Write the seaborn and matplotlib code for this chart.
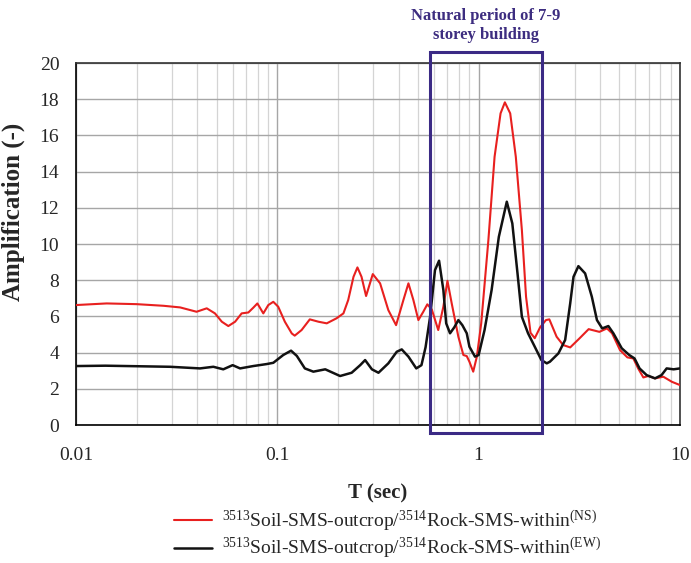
import matplotlib
matplotlib.use("Agg")
import matplotlib.pyplot as plt
import seaborn as sns
import pandas as pd
from matplotlib.patches import Rectangle
from matplotlib.ticker import LogLocator, FixedLocator, NullFormatter

# ---------------- data ----------------
T_ns = [0.01, 0.0142, 0.02, 0.0272, 0.0329, 0.0397, 0.0446, 0.049, 0.053, 0.0571,
        0.0617, 0.0665, 0.0718, 0.0759, 0.0796, 0.0852, 0.0902, 0.0955, 0.101, 0.109,
        0.118, 0.122, 0.132, 0.145, 0.160, 0.176, 0.197, 0.213, 0.225, 0.239,
        0.25, 0.262, 0.276, 0.298, 0.324, 0.356, 0.389, 0.423, 0.448, 0.474,
        0.502, 0.531, 0.556, 0.585, 0.63, 0.668, 0.70, 0.735, 0.793, 0.84,
        0.873, 0.90, 0.94, 0.98, 1.03, 1.118, 1.20, 1.285, 1.35, 1.435,
        1.53, 1.64, 1.72, 1.81, 1.90, 2.02, 2.16, 2.245, 2.44, 2.63,
        2.85, 3.17, 3.52, 3.98, 4.34, 4.60, 5.04, 5.48, 5.87, 6.2,
        6.58, 6.96, 7.52, 8.27, 9.12, 10.0]
A_ns = [6.63, 6.72, 6.68, 6.59, 6.50, 6.26, 6.45, 6.17, 5.71, 5.47,
        5.71, 6.17, 6.22, 6.48, 6.72, 6.17, 6.63, 6.81, 6.54, 5.71,
        5.06, 4.94, 5.25, 5.84, 5.71, 5.62, 5.90, 6.17, 6.91, 8.19,
        8.71, 8.19, 7.13, 8.34, 7.83, 6.35, 5.52, 6.91, 7.83, 6.91,
        5.80, 6.26, 6.67, 6.39, 5.25, 6.54, 7.97, 6.72, 4.88, 3.87,
        3.81, 3.50, 2.95, 3.78, 5.62, 10.22, 14.82, 17.22, 17.83, 17.22,
        14.82, 10.77, 7.09, 5.10, 4.80, 5.40, 5.80, 5.84, 4.88, 4.42,
        4.29, 4.79, 5.30, 5.15, 5.34, 5.07, 4.14, 3.74, 3.68, 3.13,
        2.63, 2.71, 2.58, 2.67, 2.39, 2.21]

T_ew = [0.01, 0.014, 0.0293, 0.0329, 0.0413, 0.0481, 0.0539, 0.060, 0.0653, 0.0759,
        0.0885, 0.0955, 0.107, 0.117, 0.125, 0.137, 0.151, 0.173, 0.205, 0.234,
        0.258, 0.273, 0.295, 0.318, 0.356, 0.392, 0.415, 0.448, 0.49, 0.52,
        0.545, 0.574, 0.607, 0.636, 0.668, 0.69, 0.721, 0.757, 0.793, 0.83,
        0.873, 0.90, 0.959, 1.0, 1.07, 1.16, 1.26, 1.38, 1.47, 1.56,
        1.64, 1.76, 1.9, 2.05, 2.18, 2.26, 2.49, 2.69, 2.85, 2.96,
        3.13, 3.38, 3.65, 3.87, 4.11, 4.41, 4.67, 5.14, 5.6, 5.95,
        6.3, 6.83, 7.52, 8.1, 8.59, 9.3, 10.0]
A_ew = [3.26, 3.28, 3.22, 3.19, 3.13, 3.22, 3.08, 3.31, 3.13, 3.26,
        3.37, 3.44, 3.87, 4.11, 3.82, 3.13, 2.95, 3.08, 2.71, 2.89,
        3.31, 3.59, 3.08, 2.89, 3.41, 4.05, 4.18, 3.78, 3.13, 3.31,
        4.30, 5.98, 8.56, 9.08, 7.46, 5.62, 5.07, 5.40, 5.80, 5.52,
        5.07, 4.33, 3.78, 3.87, 5.25, 7.46, 10.40, 12.34, 11.14, 8.38,
        5.98, 5.07, 4.33, 3.59, 3.41, 3.50, 3.96, 4.70, 6.72, 8.19,
        8.78, 8.38, 7.09, 5.80, 5.34, 5.47, 5.07, 4.24, 3.87, 3.68,
        3.13, 2.76, 2.58, 2.76, 3.13, 3.08, 3.13]

label_ns = r"$^{3513}$Soil-SMS-outcrop/$^{3514}$Rock-SMS-within$^{\mathrm{(NS)}}$"
label_ew = r"$^{3513}$Soil-SMS-outcrop/$^{3514}$Rock-SMS-within$^{\mathrm{(EW)}}$"

x_ticks = [0.01, 0.1, 1, 10]
x_ticklabels = ["0.01", "0.1", "1", "10"]
y_ticks = [0, 2, 4, 6, 8, 10, 12, 14, 16, 18, 20]

box_T = (0.574, 2.07)
box_title = "Natural period of 7-9\nstorey building"

# ---------------- style ----------------
sns.set_style("white")
plt.rcParams["font.family"] = ["Liberation Serif", "DejaVu Serif"]
plt.rcParams["mathtext.fontset"] = "custom"
plt.rcParams["mathtext.rm"] = "Liberation Serif"
plt.rcParams["mathtext.it"] = "Liberation Serif"
plt.rcParams["mathtext.bf"] = "Liberation Serif:bold"

fig = plt.figure(figsize=(6.91, 5.63), dpi=100)
ax = fig.add_axes([0.110, 0.245, 0.874, 0.643])

df_ns = pd.DataFrame({"T": T_ns, "A": A_ns})
df_ew = pd.DataFrame({"T": T_ew, "A": A_ew})

sns.lineplot(data=df_ns, x="T", y="A", ax=ax, color="#e8201f", lw=1.5,
             label=label_ns, sort=False, zorder=3)
sns.lineplot(data=df_ew, x="T", y="A", ax=ax, color="#111111", lw=1.8,
             label=label_ew, sort=False, zorder=4)

ax.set_xscale("log")
ax.set_xlim(0.01, 10)
ax.set_ylim(0, 20)
ax.xaxis.set_major_locator(FixedLocator(x_ticks))
ax.set_xticklabels(x_ticklabels)
ax.xaxis.set_minor_locator(LogLocator(base=10, subs=range(2, 10)))
ax.xaxis.set_minor_formatter(NullFormatter())
ax.set_yticks(y_ticks)

ax.grid(which="major", axis="both", color="#a6a6a6", lw=1.0, zorder=0)
ax.grid(which="minor", axis="x", color="#d4d4d4", lw=0.9, zorder=0)
ax.set_axisbelow(True)

for s in ax.spines.values():
    s.set_color("#333333")
    s.set_linewidth(1.2)
ax.spines["left"].set_color("black")
ax.spines["bottom"].set_color("black")

ax.tick_params(axis="both", which="major", direction="inout", length=8, width=1.0,
               labelsize=14, color="black", pad=8)
ax.tick_params(axis="x", which="minor", length=0)
ax.tick_params(axis="x", which="major", pad=12)

ax.set_xlabel("T (sec)", fontsize=15, fontweight="bold", labelpad=14)
ax.set_ylabel("Amplification (-)", fontsize=18, fontweight="bold")
ax.yaxis.set_label_coords(-0.085, 0.59)

# period box
rect = Rectangle((box_T[0], -0.45), box_T[1] - box_T[0], 21.05, fill=False,
                 edgecolor="#3b2a85", lw=2.2, clip_on=False, zorder=5)
ax.add_patch(rect)
ax.text((box_T[0] * box_T[1]) ** 0.5, 21.12, box_title, ha="center", va="bottom",
        fontsize=12, fontweight="bold", color="#3d2d80", linespacing=1.2)

ax.get_legend().remove()
handles, labels = ax.get_legend_handles_labels()
fig.legend(handles, labels, loc="upper left", bbox_to_anchor=(0.252, 0.097),
           frameon=False, fontsize=14, handlelength=1.95, handletextpad=0.5,
           labelspacing=0.12, borderaxespad=0, borderpad=0)

fig.savefig("out.png", dpi=100)
